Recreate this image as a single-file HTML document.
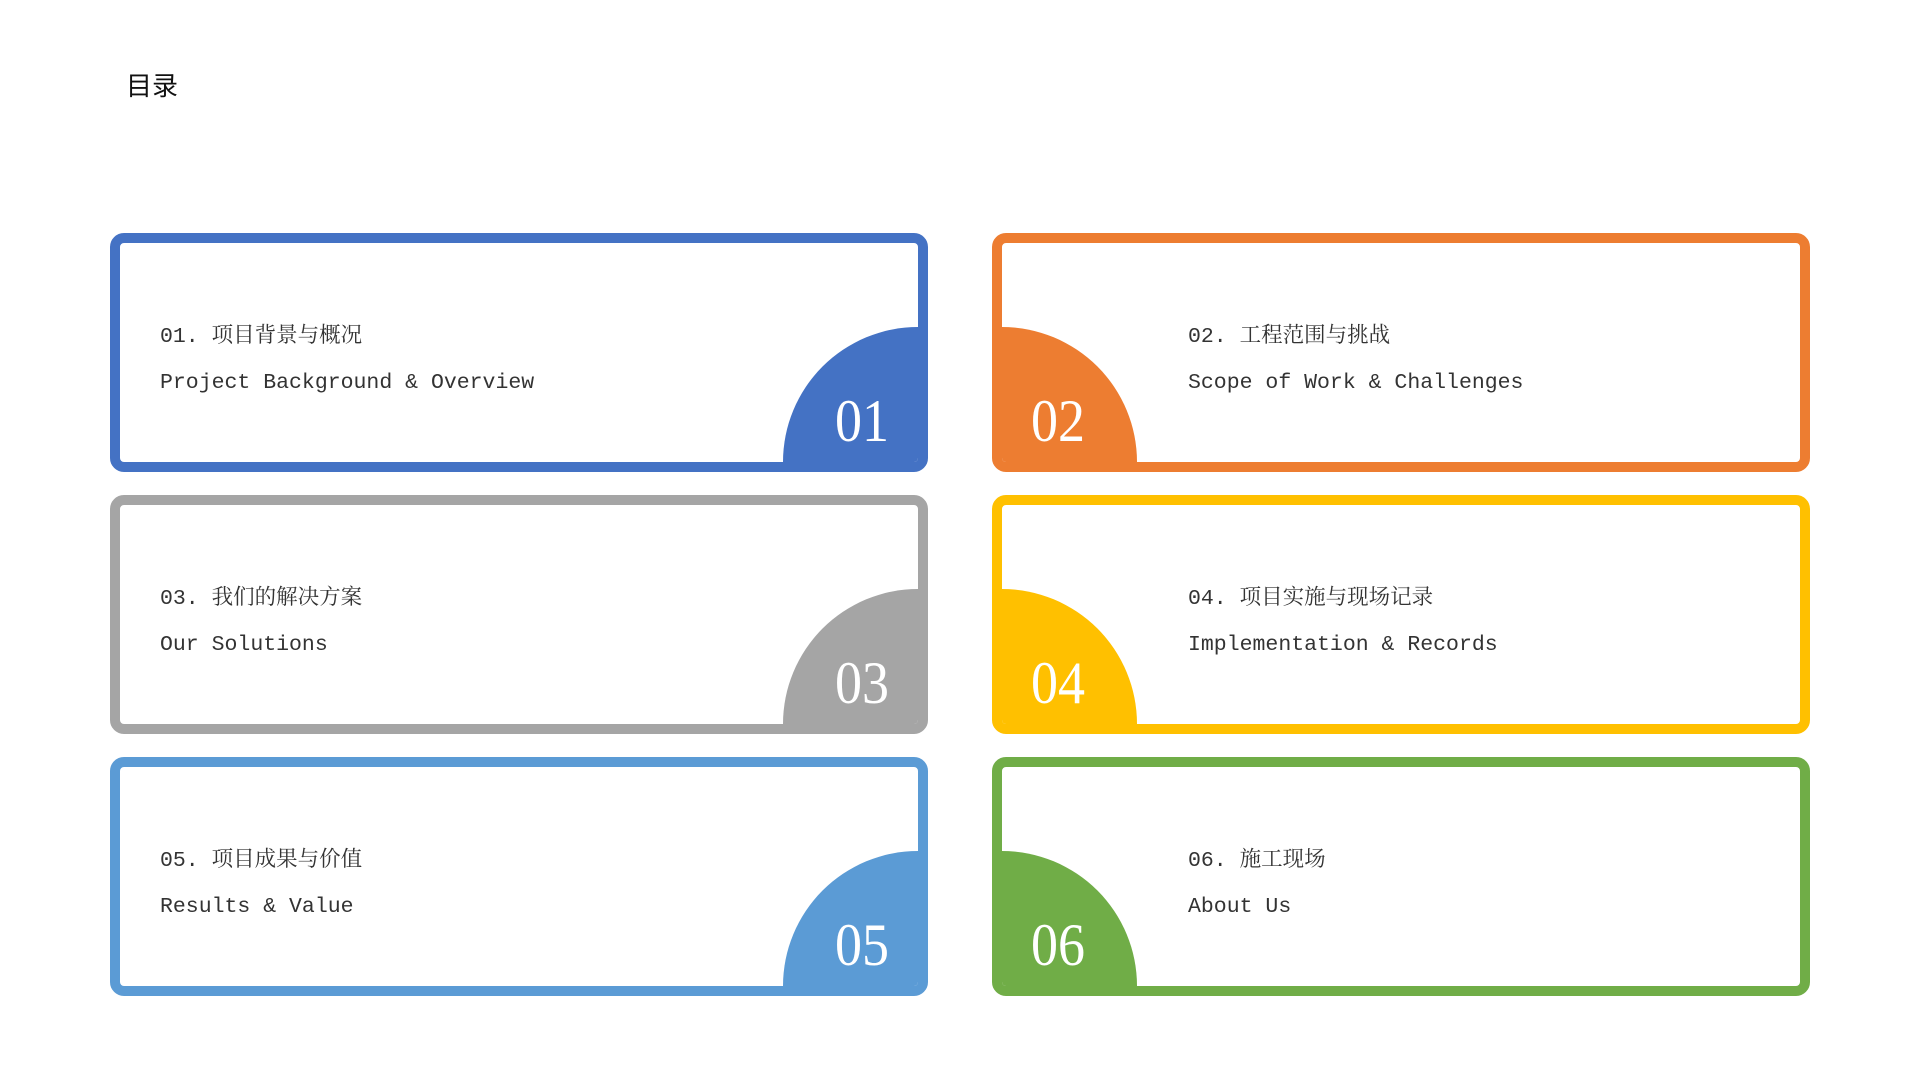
<!DOCTYPE html>
<html><head><meta charset="utf-8"><style>
body{margin:0;width:1920px;height:1080px;background:#fff;position:relative;overflow:hidden;font-family:"Liberation Mono","Noto Serif CJK SC",monospace;}
.t{position:absolute;left:126px;top:66px;font-size:26px;font-family:"Liberation Sans","Noto Sans CJK SC",sans-serif;color:#111;}
.c{position:absolute;width:798px;height:219px;border:10px solid;border-radius:14px;overflow:hidden;background:#fff;}
.q{position:absolute;width:270px;height:270px;border-radius:50%;bottom:-135px;}
.r .q{right:-135px}.l .q{left:-135px}
.n{position:absolute;bottom:6px;font-family:"Liberation Serif",serif;font-size:60px;color:#fff;transform:scaleX(0.9);}
.r .n{right:26px}.l .n{left:26px}
.a,.b{position:absolute;font-size:21.5px;color:#333;white-space:pre;}
.r .a,.r .b{left:40px}.l .a,.l .b{left:186px}
.a{top:75px}.b{top:128px}
</style></head><body>
<div class="t">目录</div>

<div class="c r" style="left:110px;top:233px;border-color:#4472C4"><div class="q" style="background:#4472C4"></div><div class="n">01</div><div class="a">01. 项目背景与概况</div><div class="b">Project Background &amp; Overview</div></div>
<div class="c l" style="left:992px;top:233px;border-color:#ED7D31"><div class="q" style="background:#ED7D31"></div><div class="n">02</div><div class="a">02. 工程范围与挑战</div><div class="b">Scope of Work &amp; Challenges</div></div>

<div class="c r" style="left:110px;top:495px;border-color:#A5A5A5"><div class="q" style="background:#A5A5A5"></div><div class="n">03</div><div class="a">03. 我们的解决方案</div><div class="b">Our Solutions</div></div>
<div class="c l" style="left:992px;top:495px;border-color:#FFC000"><div class="q" style="background:#FFC000"></div><div class="n">04</div><div class="a">04. 项目实施与现场记录</div><div class="b">Implementation &amp; Records</div></div>

<div class="c r" style="left:110px;top:757px;border-color:#5B9BD5"><div class="q" style="background:#5B9BD5"></div><div class="n">05</div><div class="a">05. 项目成果与价值</div><div class="b">Results &amp; Value</div></div>
<div class="c l" style="left:992px;top:757px;border-color:#70AD47"><div class="q" style="background:#70AD47"></div><div class="n">06</div><div class="a">06. 施工现场</div><div class="b">About Us</div></div>
</body></html>
